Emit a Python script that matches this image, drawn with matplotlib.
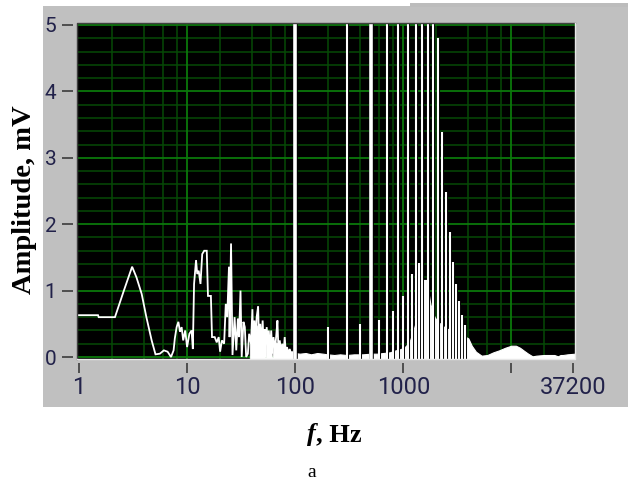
import numpy as np
import matplotlib
matplotlib.use('Agg')
import matplotlib.pyplot as plt
from matplotlib.patches import Rectangle
from matplotlib.colors import LinearSegmentedColormap
import matplotlib.patheffects as pe

W, H, DPI = 633, 484, 100

# ---------------- data ----------------
# main spectrum trace, 1 Hz .. 100 Hz
trace_f = [0.96, 1.5, 1.52, 2.15, 2.6, 3.1, 3.4, 3.8, 4.2, 4.7, 5.1, 5.6, 6.1, 6.6, 7.1,
           7.5, 7.7, 8.0, 8.3, 8.6, 8.9, 9.2, 9.6, 10.0, 10.5, 11.0, 11.3, 11.6, 12.1,
           12.4, 12.8, 13.3, 13.8, 14.4, 15.2, 15.6, 16.6, 17.0, 18.0, 18.8, 19.6, 20.2,
           21.0, 22.0, 22.8, 23.5, 24.4, 24.7, 25.5, 26.3, 27.5, 28.5, 29.5, 30.2, 31.2,
           32.0, 33.2, 34.2, 35.2, 36.5, 37.5, 39.0, 40.2, 41.0, 42.0, 43.0, 44.0, 45.4,
           46.5, 47.5, 48.5, 50.0, 51.0, 52.0, 53.0, 54.5, 56.0, 57.0, 58.5, 60.0, 61.5,
           63.0, 65.0, 67.0, 68.5, 70.0, 72.0, 74.0, 76.0, 78.0, 80.0, 82.0, 84.0, 86.0,
           89.0, 92.0, 96.0, 100.0]
trace_a = [0.63, 0.63, 0.60, 0.60, 1.00, 1.36, 1.20, 0.95, 0.60, 0.25, 0.04, 0.05, 0.10, 0.08, 0.00,
           0.10, 0.28, 0.45, 0.53, 0.38, 0.45, 0.25, 0.40, 0.15, 0.35, 0.40, 0.12, 1.10, 1.46,
           1.25, 1.30, 1.10, 1.55, 1.60, 1.60, 0.92, 0.92, 0.30, 0.30, 0.22, 0.30, 0.08,
           0.25, 0.20, 0.80, 0.60, 1.36, 0.30, 1.71, 0.03, 0.60, 0.10, 0.58, 0.30, 1.00,
           0.00, 0.53, 0.45, 0.00, 0.05, 0.35, 0.20, 0.72, 0.10, 0.55, 0.20, 0.60, 0.76,
           0.10, 0.50, 0.15, 0.55, 0.20, 0.42, 0.00, 0.45, 0.15, 0.40, 0.10, 0.40, 0.05,
           0.30, 0.10, 0.35, 0.55, 0.10, 0.25, 0.08, 0.20, 0.05, 0.30, 0.05, 0.15, 0.05,
           0.12, 0.04, 0.08, 0.05]

# dense (filled-looking) noise band, 38 Hz .. 100 Hz
dense_f = [38, 40, 42, 44, 46, 48, 50, 52, 52.6, 53.6, 54.2, 56, 58, 60, 60.8, 62.2, 63,
           66, 70, 75, 80, 85, 90, 95, 100]
dense_a = [0.20, 0.38, 0.32, 0.48, 0.38, 0.42, 0.40, 0.32, 0.0, 0.0, 0.32, 0.33, 0.30, 0.26,
           0.0, 0.0, 0.22, 0.22, 0.20, 0.16, 0.13, 0.11, 0.09, 0.07, 0.06]

# dense (filled-looking) part of the spectrum, 90 Hz .. end
fill_f = [90, 100, 110, 125, 140, 160, 180, 200, 230, 260, 300, 350, 420, 500, 580, 650,
          750, 850, 950, 1050, 1150, 1250, 1320, 1380, 1430, 1500, 1690, 1720, 1780, 1850,
          1950, 2050, 2200, 2400, 2600, 2800, 3000, 3200, 3500, 3800, 4000, 4300, 4700,
          5300, 6000, 6800, 7700, 8800, 10000, 11000, 12000, 13200, 14300, 15700, 17000,
          20000, 25000, 27000, 28500, 30000, 33000, 38800]
fill_a = [0.08, 0.06, 0.05, 0.06, 0.04, 0.06, 0.05, 0.04, 0.03, 0.04, 0.03, 0.04, 0.04, 0.05, 0.05, 0.06,
          0.07, 0.10, 0.12, 0.16, 0.24, 0.42, 0.55, 0.90, 1.16, 1.16, 1.16, 0.95, 0.80, 0.70,
          0.60, 0.55, 0.50, 0.45, 0.42, 0.40, 0.38, 0.35, 0.32, 0.30, 0.28, 0.17, 0.08,
          0.02, 0.03, 0.07, 0.10, 0.14, 0.17, 0.17, 0.14, 0.09, 0.05, 0.01, 0.02,
          0.03, 0.03, 0.01, 0.03, 0.03, 0.04, 0.05]

# harmonic spikes
spike_f = [100, 200, 300, 400, 500, 600, 700, 800, 900, 1000, 1100, 1200, 1300, 1400,
           1500, 1700, 1900, 2100, 2300, 2500, 2700, 2900, 3100, 3300, 3500, 3700]
spike_a = [5.6, 0.45, 5.6, 0.49, 5.6, 0.55, 5.6, 0.70, 5.6, 0.92, 5.6, 1.25, 5.6, 1.42,
           5.6, 5.6, 5.6, 4.80, 3.39, 2.49, 1.88, 1.43, 1.10, 0.84, 0.63, 0.48]
thick_spike_f = [100, 500]

xtick_vals = [1, 10, 100, 1000, 10000, 37200]
xtick_labels = ['1', '10', '100', '1000', '', '37200']
ytick_vals = [0, 1, 2, 3, 4, 5]
ytick_labels = ['0', '1', '2', '3', '4', '5']

# ---------------- figure / background ----------------
fig = plt.figure(figsize=(W / DPI, H / DPI), dpi=DPI)
fig.patch.set_facecolor('white')
bg = fig.add_axes([0, 0, 1, 1], zorder=-1)
bg.set_xlim(0, W)
bg.set_ylim(H, 0)
bg.axis('off')
bg.add_patch(Rectangle((43, 6), 585, 401, color='#c0c0c0', lw=0))
bg.add_patch(Rectangle((410, 3), 218, 4, color='#bcbcbc', lw=0))
cm = LinearSegmentedColormap.from_list('edge', ['#c0c0c0', '#b4b4b4', '#8a8a8a', '#686868'])
bg.imshow(np.linspace(0, 1, 40)[None, :], cmap=cm, extent=(606, 628, 407, 3),
          aspect='auto', interpolation='bilinear')
bg.set_xlim(0, W)
bg.set_ylim(H, 0)

# ---------------- plot area ----------------
ax = fig.add_axes([77 / W, 1 - 359 / H, 498 / W, 336 / H])
ax.set_facecolor('black')
ax.set_xscale('log')
ax.set_xlim(0.958, 38800)
ax.set_ylim(-0.03, 5.03)

# grid
minor_col, major_col = '#064a06', '#0b780b'
for dec in [1, 10, 100, 1000, 10000]:
    for m in [2, 4, 6, 8]:
        if dec * m < 38800:
            ax.axvline(dec * m, color=minor_col, lw=1.1, zorder=0.5)
for v in [10, 100, 1000, 10000]:
    ax.axvline(v, color=major_col, lw=1.3, zorder=0.6)
for k in range(25):
    y = k * 0.2
    if k % 5:
        ax.axhline(y, color=minor_col, lw=1.1, zorder=0.5)
for y in ytick_vals:
    ax.axhline(y, color=major_col, lw=1.3, zorder=0.6)

# data
ax.fill_between(fill_f, -0.03, fill_a, color='white', lw=0.8, edgecolor='white', zorder=2)
ax.fill_between(dense_f, -0.03, dense_a, color='white', lw=0.6, edgecolor='white', zorder=2)
ax.plot(trace_f, trace_a, color='white', lw=1.3, zorder=3, solid_joinstyle='miter')
thin = [(f, a) for f, a in zip(spike_f, spike_a) if f not in thick_spike_f]
thick = [(f, a) for f, a in zip(spike_f, spike_a) if f in thick_spike_f]
vl = ax.vlines([t[0] for t in thin], -0.03, [t[1] for t in thin], color='white', lw=1.5, zorder=4)
vl.set_path_effects([pe.Stroke(linewidth=2.2, foreground='black'), pe.Normal()])
vt = ax.vlines([t[0] for t in thick], -0.03, [t[1] for t in thick], color='white', lw=2.6, zorder=4)
vt.set_path_effects([pe.Stroke(linewidth=3.3, foreground='black'), pe.Normal()])

# frame
for s in ax.spines.values():
    s.set_visible(False)
ax.plot([0, 0, 1], [0, 1, 1], transform=ax.transAxes, color='#404040', lw=1.0, clip_on=False, zorder=6)
ax.plot([0, 1, 1], [0, 0, 1], transform=ax.transAxes, color='#e8e8e8', lw=1.0, clip_on=False, zorder=6)
ax.spines['left'].set_position(('outward', 2.9))
ax.spines['bottom'].set_position(('outward', 2.9))

ax.set_xticks(xtick_vals)
ax.set_xticklabels(xtick_labels)
ax.xaxis.set_minor_locator(matplotlib.ticker.NullLocator())
ax.set_yticks(ytick_vals)
ax.set_yticklabels(ytick_labels)
ax.tick_params(axis='x', direction='out', length=7.2, width=1.1, color='#303030',
               pad=2.5, labelsize=17, labelcolor='#22224a')
ax.tick_params(axis='y', direction='out', length=7.9, width=1.1, color='#303030',
               pad=4.0, labelsize=15, labelcolor='#22224a')
for lbl in ax.get_xticklabels() + ax.get_yticklabels():
    lbl.set_fontfamily('Roboto')

# ---------------- outer labels ----------------
bg.text(25, 200, 'Amplitude, mV', rotation=90, family='Liberation Serif', weight='bold',
        size=20.5, ha='center', va='center', color='black')
bg.text(316, 441, 'f', family='Liberation Serif', weight='bold', style='italic',
        size=19, ha='right', va='baseline', color='black')
bg.text(316, 441, ', Hz', family='Liberation Serif', weight='bold',
        size=19, ha='left', va='baseline', color='black')
bg.text(312, 477, 'a', family='Liberation Serif', size=14, ha='center', va='baseline', color='black')

fig.savefig('out.png', dpi=DPI)
